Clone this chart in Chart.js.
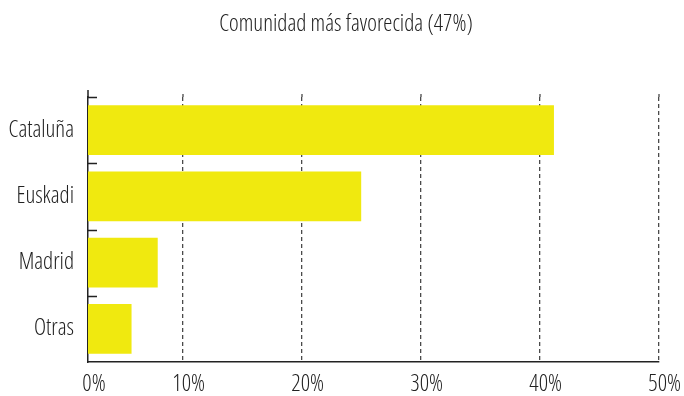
<!DOCTYPE html>
<html>
<head>
<meta charset="utf-8">
<script src="https://cdn.jsdelivr.net/npm/chart.js@4"></script>
<style>
  html, body { margin: 0; padding: 0; background: #fff; }
  canvas { display: block; }
</style>
</head>
<body>
<canvas id="chart" width="684" height="396"></canvas>
<script>
const chartTitle = 'Comunidad más favorecida (47%)';
const regions = ['Cataluña', 'Euskadi', 'Madrid', 'Otras'];
const shares = [41.2, 25, 7.9, 5.7];
const pctTicks = [0, 10, 20, 30, 40, 50];
const axisStart = 2.04;   // value where the category axis crosses; "0%" is pinned there

// 'condensed' goes through the weight slot so the font string picks the narrow face
const FONT = { family: "'Open Sans', Roboto, sans-serif", size: 23, weight: 'condensed 300' };
const INK = '#222222';
const GRID = '#4a4a4a';

// title sits a little right of the canvas centre, above the plot
const topTitle = {
  id: 'topTitle',
  afterDraw(chart) {
    const { ctx } = chart;
    ctx.save();
    ctx.font = Chart.helpers.toFont(FONT).string;
    ctx.fillStyle = INK;
    ctx.textAlign = 'center';
    ctx.textBaseline = 'middle';
    ctx.fillText(chartTitle, 346, 24);
    ctx.restore();
  }
};

// short inward ticks on the category axis + small stubs above the plot
const axisMarks = {
  id: 'axisMarks',
  afterDraw(chart) {
    const { ctx, chartArea } = chart;
    const x = chart.scales.x;
    const y = chart.scales.y;
    const slot = (chartArea.bottom - chartArea.top) / regions.length;
    ctx.save();
    ctx.strokeStyle = INK;
    ctx.lineWidth = 1.5;
    ctx.beginPath();
    ctx.moveTo(chartArea.left, chartArea.top - 7);
    ctx.lineTo(chartArea.left, chartArea.top);
    regions.forEach((r, i) => {
      const ty = Math.round(y.getPixelForValue(i) - slot / 2) + 0.5;
      ctx.moveTo(chartArea.left, ty);
      ctx.lineTo(chartArea.left + 9, ty);
    });
    ctx.stroke();

    ctx.strokeStyle = GRID;
    ctx.lineWidth = 1.3;
    ctx.setLineDash([4, 3]);
    ctx.beginPath();
    pctTicks.filter(v => v > 0).forEach(v => {
      const gx = Math.round(x.getPixelForValue(v));
      ctx.moveTo(gx, chartArea.top - 3);
      ctx.lineTo(gx, chartArea.top);
    });
    ctx.stroke();
    ctx.restore();
  }
};

new Chart(document.getElementById('chart'), {
  type: 'bar',
  data: {
    labels: regions,
    datasets: [{
      data: shares,
      backgroundColor: '#f0e90f',
      borderWidth: 0,
      barPercentage: 0.75,
      categoryPercentage: 1
    }]
  },
  options: {
    indexAxis: 'y',
    responsive: false,
    animation: false,
    layout: { padding: { left: 0, right: 23, top: 97, bottom: 0 } },
    plugins: {
      legend: { display: false },
      tooltip: { enabled: false },
      title: { display: false }
    },
    scales: {
      x: {
        type: 'linear',
        min: axisStart,
        max: 50,
        afterBuildTicks: (scale) => {
          scale.ticks = pctTicks.map(v => ({ value: Math.max(v, axisStart) }));
        },
        afterFit: (scale) => { scale.height = 34; },
        grid: {
          drawTicks: false,
          lineWidth: 1.3,
          color: (c) => c.index === 0 ? 'rgba(0,0,0,0)' : GRID
        },
        border: { display: true, color: INK, width: 1.5, dash: [4, 3] },
        ticks: {
          color: INK,
          padding: 9,
          labelOffset: 6,
          font: FONT,
          callback: (v, i) => pctTicks[i] + '%'
        }
      },
      y: {
        afterFit: (scale) => { scale.width = 88; },
        grid: { display: false, drawTicks: false },
        border: { display: true, color: INK, width: 1.5 },
        ticks: {
          color: INK,
          padding: 14,
          font: FONT
        }
      }
    }
  },
  plugins: [axisMarks, topTitle]
});
</script>
</body>
</html>
